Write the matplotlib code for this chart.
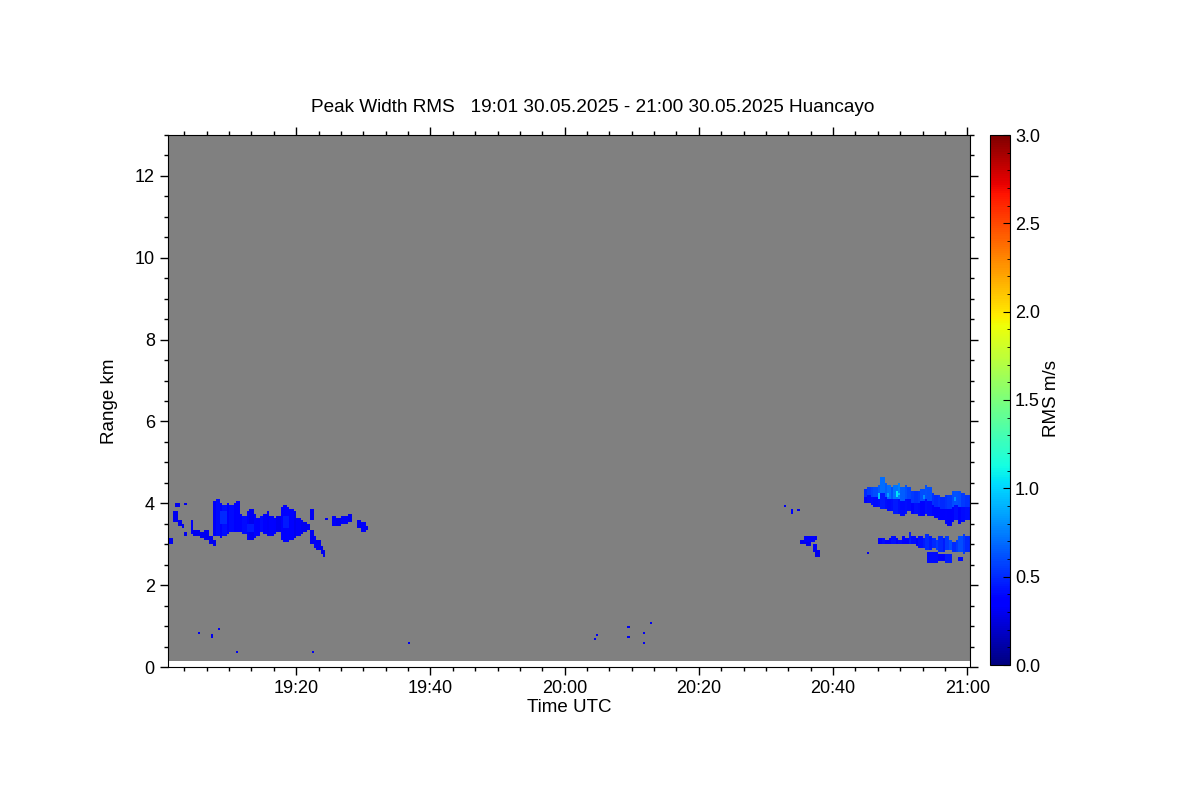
import numpy as np
import matplotlib
matplotlib.use("Agg")
import matplotlib.pyplot as plt
from matplotlib.ticker import MultipleLocator, FixedLocator, FuncFormatter

plt.rcParams['font.family'] = ['Liberation Sans', 'DejaVu Sans']

# time in minutes after 19:00 UTC, range in km, values RMS m/s
title = "Peak Width RMS   19:01 30.05.2025 - 21:00 30.05.2025 Huancayo"
t_start, t_end = 1.0, 120.4
r_start, r_end = 0.15, 13.0

# main echo 19:07 - 19:22 (column start, bottom, top, value)
west_t = [7.5, 8.0, 8.5, 9.0, 9.5, 10.0, 10.5, 11.0, 11.5, 12.0, 12.5, 13.0, 13.5, 14.0,
          14.5, 15.0, 15.5, 16.0, 16.5, 17.0, 17.5, 18.0, 18.5, 19.0, 19.5, 20.0, 20.5, 21.0, 21.5]
west_bot = [3.2, 3.2, 3.15, 3.2, 3.25, 3.3, 3.3, 3.3, 3.3, 3.25, 3.1, 3.1, 3.15, 3.2,
            3.3, 3.25, 3.2, 3.2, 3.25, 3.3, 3.1, 3.05, 3.05, 3.1, 3.15, 3.2, 3.25, 3.3, 3.35]
west_top = [4.05, 4.1, 4.0, 3.95, 4.0, 3.95, 3.98, 4.07, 3.75, 3.7, 3.8, 3.85, 3.75, 3.65,
            3.7, 3.75, 3.8, 3.7, 3.65, 3.7, 3.9, 3.95, 3.9, 3.85, 3.8, 3.65, 3.6, 3.55, 3.5]
west_val = [0.32, 0.4, 0.36, 0.42, 0.35, 0.4, 0.33, 0.38, 0.34, 0.4, 0.36, 0.3, 0.38, 0.34,
            0.4, 0.35, 0.32, 0.38, 0.34, 0.3, 0.36, 0.33, 0.38, 0.34, 0.3, 0.32, 0.3, 0.3, 0.3]

# small echoes (start, end, bottom, top, value)
west_bits = [
    (1.0, 1.6, 2.98, 3.17, 0.3), (2.1, 2.5, 3.92, 4.02, 0.3), (3.5, 3.8, 3.95, 4.02, 0.3),
    (1.8, 2.3, 3.55, 3.78, 0.3), (2.3, 2.9, 3.45, 3.6, 0.3), (2.9, 3.3, 3.4, 3.5, 0.3),
    (3.2, 3.5, 3.22, 3.3, 0.3), (4.2, 4.8, 3.27, 3.6, 0.32), (4.5, 5.5, 3.2, 3.35, 0.3),
    (5.5, 6.5, 3.17, 3.3, 0.3), (6.3, 7.0, 3.1, 3.35, 0.3), (7.0, 7.5, 3.0, 3.2, 0.3),
    (7.5, 8.1, 2.95, 3.1, 0.3),
    (8.5, 9.5, 3.5, 3.8, 0.5), (12.5, 13.5, 3.3, 3.5, 0.45), (18.0, 19.0, 3.4, 3.7, 0.45),
    (22.0, 22.5, 3.0, 3.35, 0.3), (22.0, 22.5, 3.6, 3.83, 0.3), (22.5, 23.0, 2.9, 3.2, 0.32),
    (23.0, 23.5, 2.85, 3.1, 0.3), (23.5, 24.0, 2.75, 2.95, 0.3), (24.0, 24.3, 2.72, 2.85, 0.3),
    (24.4, 24.7, 3.58, 3.66, 0.3), (25.4, 26.0, 3.45, 3.7, 0.32), (26.0, 26.8, 3.45, 3.65, 0.3),
    (26.8, 27.5, 3.5, 3.72, 0.32), (27.5, 28.2, 3.55, 3.75, 0.3),
    (29.1, 29.5, 3.4, 3.6, 0.3), (29.5, 30.2, 3.3, 3.55, 0.32), (30.2, 30.7, 3.33, 3.45, 0.3),
]

east_bits = [
    (92.8, 93.1, 3.9, 3.96, 0.3), (93.6, 94.1, 3.76, 3.87, 0.32), (94.6, 94.8, 3.78, 3.83, 0.3),
    (95.0, 96.0, 3.0, 3.12, 0.3), (95.6, 97.3, 3.05, 3.2, 0.36), (96.0, 96.8, 2.93, 3.05, 0.3),
    (97.3, 97.8, 3.12, 3.2, 0.3), (96.9, 97.6, 2.8, 2.98, 0.32), (97.3, 98.1, 2.68, 2.85, 0.3),
    (114.0, 115.5, 2.56, 2.8, 0.4), (115.5, 116.5, 2.6, 2.75, 0.38), (116.8, 117.8, 2.54, 2.75, 0.45),
    (118.6, 119.2, 2.58, 2.72, 0.4),
    (106.6, 107.0, 4.12, 4.25, 0.95), (107.9, 108.2, 4.15, 4.25, 0.85), (109.2, 109.6, 4.15, 4.28, 1.05),
    (109.7, 110.1, 4.18, 4.26, 0.95), (113.5, 113.8, 4.1, 4.2, 0.8), (118.0, 118.4, 4.05, 4.15, 0.8),
]

# upper layer after 20:44
up_t = [104.5, 105.0, 105.5, 106.0, 106.5, 107.0, 107.5, 108.0, 108.5, 109.0, 109.5, 110.0,
        110.5, 111.0, 111.5, 112.0, 112.5, 113.0, 113.5, 114.0, 114.5, 115.0, 115.5, 116.0,
        116.5, 117.0, 117.5, 118.0, 118.5, 119.0, 119.5, 120.0]
up_bot = [4.0, 4.0, 3.95, 3.9, 3.88, 3.85, 3.83, 3.8, 3.78, 3.75, 3.75, 3.72,
          3.75, 3.78, 3.75, 3.75, 3.7, 3.72, 3.75, 3.72, 3.68, 3.65, 3.62, 3.6,
          3.5, 3.45, 3.55, 3.6, 3.5, 3.55, 3.6, 3.6]
up_top = [4.35, 4.38, 4.4, 4.42, 4.45, 4.63, 4.5, 4.45, 4.42, 4.45, 4.48, 4.4,
          4.45, 4.38, 4.3, 4.28, 4.3, 4.35, 4.44, 4.4, 4.25, 4.2, 4.18, 4.15,
          4.2, 4.22, 4.3, 4.28, 4.3, 4.25, 4.2, 4.2]
up_low_val = [0.38, 0.4, 0.42, 0.4, 0.42, 0.45, 0.42, 0.4, 0.42, 0.45, 0.42, 0.4,
              0.42, 0.4, 0.38, 0.42, 0.4, 0.38, 0.42, 0.4, 0.38, 0.35, 0.38, 0.35,
              0.38, 0.35, 0.38, 0.42, 0.38, 0.4, 0.42, 0.42]
up_top_val = [0.5, 0.55, 0.58, 0.6, 0.65, 0.7, 0.65, 0.7, 0.62, 0.72, 0.75, 0.65,
              0.62, 0.58, 0.55, 0.52, 0.55, 0.6, 0.62, 0.6, 0.52, 0.5, 0.52, 0.5,
              0.52, 0.55, 0.6, 0.62, 0.6, 0.55, 0.52, 0.52]

# lower layer after 20:46
lo_t = [106.8, 107.3, 107.8, 108.3, 108.8, 109.3, 109.8, 110.3, 110.8, 111.3, 111.8, 112.3,
        112.8, 113.3, 113.8, 114.3, 114.8, 115.3, 115.8, 116.3, 116.8, 117.3, 117.8, 118.3,
        118.8, 119.3, 119.8]
lo_bot = [3.0, 3.02, 3.0, 2.98, 3.0, 3.0, 3.02, 3.0, 2.98, 3.0, 2.98, 2.95,
          2.9, 2.88, 2.85, 2.85, 2.88, 2.85, 2.82, 2.8, 2.85, 2.85, 2.8, 2.78,
          2.8, 2.75, 2.8]
lo_top = [3.15, 3.17, 3.12, 3.15, 3.2, 3.15, 3.12, 3.18, 3.15, 3.3, 3.2, 3.15,
          3.2, 3.15, 3.25, 3.2, 3.15, 3.1, 3.2, 3.15, 3.2, 3.1, 3.05, 3.1,
          3.2, 3.25, 3.2]
lo_val = [0.35, 0.4, 0.35, 0.38, 0.42, 0.35, 0.4, 0.38, 0.35, 0.45, 0.4, 0.38,
          0.42, 0.45, 0.5, 0.45, 0.5, 0.55, 0.5, 0.45, 0.55, 0.6, 0.5, 0.55,
          0.6, 0.55, 0.5]

# isolated single gates (time, range)
speck_t = [5.6, 7.6, 7.6, 8.5, 11.3, 22.4, 36.8, 64.6, 64.7, 69.5, 69.5, 71.9, 71.9, 72.8, 105.3]
speck_r = [0.85, 0.72, 0.8, 0.93, 0.39, 0.39, 0.6, 0.7, 0.77, 0.98, 0.73, 0.85, 0.6, 1.07, 2.8]

# grid
dt, dr = 1 / 3, 0.05
t_edges = np.append(np.arange(t_start, t_end, dt), t_end)
r_edges = np.arange(r_start, r_end + dr / 2, dr)
t_mid = (t_edges[:-1] + t_edges[1:]) / 2
r_mid = (r_edges[:-1] + r_edges[1:]) / 2
field = np.full((len(r_mid), len(t_mid)), np.nan)


def paint(t0, t1, r0, r1, v):
    ti = np.where((t_mid >= t0) & (t_mid <= t1))[0]
    ri = np.where((r_mid >= r0) & (r_mid <= r1))[0]
    if len(ti) == 0:
        ti = [np.argmin(abs(t_mid - (t0 + t1) / 2))]
    if len(ri) == 0:
        ri = [np.argmin(abs(r_mid - (r0 + r1) / 2))]
    field[np.ix_(ri, ti)] = v


for i in range(len(west_t)):
    paint(west_t[i], west_t[i] + 0.5, west_bot[i], west_top[i], west_val[i])
for i in range(len(up_t)):
    mid = (up_bot[i] + up_top[i]) / 2
    paint(up_t[i], up_t[i] + 0.5, up_bot[i], mid, up_low_val[i])
    paint(up_t[i], up_t[i] + 0.5, mid, up_top[i], up_top_val[i])
for i in range(len(lo_t)):
    paint(lo_t[i], lo_t[i] + 0.5, lo_bot[i], lo_top[i], lo_val[i])
for seg in west_bits + east_bits:
    paint(*seg)
for t, r in zip(speck_t, speck_r):
    paint(t, t, r, r, 0.3)

cmap = plt.get_cmap('jet').copy()
cmap.set_bad('#808080')

fig = plt.figure(figsize=(12, 8), dpi=100)
ax = fig.add_axes([168 / 1200, 1 - 667 / 800, (970 - 168) / 1200, (667 - 135) / 800])
mesh = ax.pcolormesh(t_edges, r_edges, np.ma.masked_invalid(field), cmap=cmap, vmin=0, vmax=3)

ax.set_xlim(0.9, 120.4)
ax.set_ylim(0, 13)
ax.xaxis.set_major_locator(FixedLocator([20, 40, 60, 80, 100, 120]))
ax.xaxis.set_minor_locator(MultipleLocator(20 / 6))
ax.xaxis.set_major_formatter(FuncFormatter(lambda m, p: "%d:%02d" % (19 + int(m) // 60, int(m) % 60)))
ax.yaxis.set_major_locator(MultipleLocator(2))
ax.yaxis.set_minor_locator(MultipleLocator(0.5))
ax.tick_params(which='both', direction='out', top=True, right=True, labelsize=13, width=1)
ax.tick_params(which='major', length=6)
ax.tick_params(which='minor', length=3)
ax.set_xlabel("Time UTC", fontsize=13.5, labelpad=1)
ax.set_ylabel("Range km", fontsize=13.5, labelpad=12)
fig.text(593 / 1200, 1 - 108 / 800, title, ha='center', va='center', fontsize=13.7)

cax = fig.add_axes([990 / 1200, 1 - 665 / 800, 20 / 1200, (665 - 135) / 800])
cb = fig.colorbar(mesh, cax=cax)
cb.set_ticks([0, 0.5, 1.0, 1.5, 2.0, 2.5, 3.0])
cb.ax.yaxis.set_major_formatter(FuncFormatter(lambda v, p: "%.1f" % v))
cb.ax.yaxis.set_minor_locator(MultipleLocator(0.1))
cb.ax.tick_params(which='both', direction='in', labelsize=13)
cb.ax.tick_params(which='major', length=5)
cb.ax.tick_params(which='minor', length=2)
fig.text(1052 / 1200, 1 - 398 / 800, "RMS m/s", rotation=90, ha='center', va='center', fontsize=13.5)

fig.savefig("out.png", dpi=100)
